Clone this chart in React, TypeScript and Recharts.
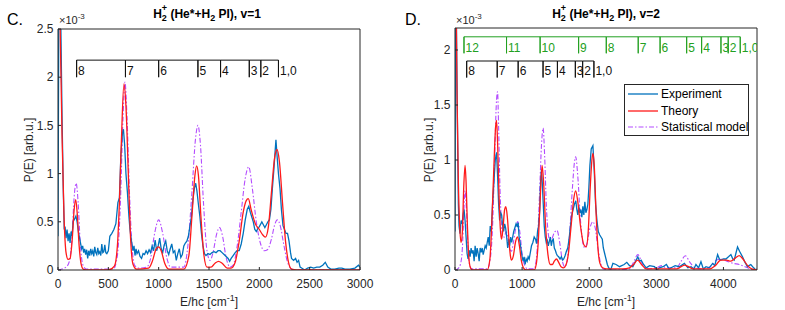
import React from 'react';
import { ComposedChart, Line, XAxis, YAxis, Scatter, Legend } from 'recharts';

const FONT = "'Liberation Sans', Arial, Helvetica, sans-serif";
const AX = '#262626';
const BLUE = '#0072BD';
const RED = '#FF1A1A';
const PURPLE = '#B44CFF';
const GREEN = '#22A022';

// ---------- v=1 (panel C), P in units of 1e-3 ----------
const expV1: [number, number][] = [
  [0, 0.35], [8, 2.7], [28, 2.55], [40, 1.6], [52, 0.85], [62, 0.42], [70, 0.45], [80, 0.33], [90, 0.42], [100, 0.3],
  [110, 0.38], [120, 0.28], [130, 0.4], [140, 0.35], [150, 0.5], [165, 0.53], [178, 0.56], [190, 0.5], [205, 0.38],
  [220, 0.3], [235, 0.22], [245, 0.25], [255, 0.18], [265, 0.22], [275, 0.16], [285, 0.21], [295, 0.12], [305, 0.2],
  [315, 0.15], [325, 0.22], [335, 0.17], [345, 0.2], [355, 0.14], [365, 0.24], [375, 0.18], [385, 0.16], [395, 0.23],
  [405, 0.17], [415, 0.19], [425, 0.15], [435, 0.27], [445, 0.18], [455, 0.19], [465, 0.26], [475, 0.18], [485, 0.17],
  [500, 0.2], [515, 0.35], [535, 0.38], [555, 0.42], [575, 0.48], [595, 0.7], [610, 0.75], [625, 1.2], [640, 1.42],
  [650, 1.46], [662, 1.3], [675, 1.0], [690, 0.8], [705, 0.55], [715, 0.42], [730, 0.3], [745, 0.2], [755, 0.25],
  [765, 0.15], [775, 0.22], [785, 0.17], [800, 0.2], [815, 0.14], [830, 0.12], [845, 0.17], [860, 0.16], [875, 0.2],
  [890, 0.17], [905, 0.21], [920, 0.18], [935, 0.25], [950, 0.2], [965, 0.31], [980, 0.2], [995, 0.25], [1010, 0.33],
  [1025, 0.22], [1040, 0.18], [1055, 0.26], [1070, 0.3], [1085, 0.2], [1100, 0.16], [1115, 0.22], [1130, 0.27],
  [1145, 0.18], [1160, 0.2], [1175, 0.1], [1190, 0.17], [1205, 0.22], [1220, 0.13], [1235, 0.16], [1250, 0.25],
  [1265, 0.28], [1280, 0.3], [1295, 0.35], [1310, 0.45], [1325, 0.55], [1340, 0.73], [1355, 0.85], [1368, 0.9],
  [1380, 0.82], [1395, 0.68], [1410, 0.55], [1425, 0.38], [1440, 0.25], [1455, 0.17], [1470, 0.15], [1490, 0.17],
  [1510, 0.16], [1530, 0.18], [1550, 0.19], [1570, 0.18], [1590, 0.2], [1610, 0.2], [1630, 0.18], [1650, 0.16],
  [1670, 0.14], [1690, 0.12], [1705, 0.09], [1720, 0.12], [1740, 0.15], [1760, 0.18], [1780, 0.2], [1800, 0.2],
  [1820, 0.27], [1840, 0.38], [1860, 0.52], [1880, 0.63], [1895, 0.66], [1910, 0.6], [1925, 0.55], [1940, 0.5],
  [1955, 0.42], [1970, 0.4], [1985, 0.43], [2000, 0.45], [2015, 0.48], [2025, 0.5], [2040, 0.47], [2055, 0.44],
  [2070, 0.47], [2085, 0.5], [2100, 0.52], [2115, 0.63], [2130, 0.85], [2145, 1.05], [2158, 1.25], [2165, 1.35],
  [2175, 1.2], [2190, 1.0], [2205, 0.85], [2220, 0.62], [2235, 0.46], [2250, 0.42], [2265, 0.38], [2280, 0.38],
  [2295, 0.3], [2310, 0.18], [2320, 0.12], [2340, 0.1], [2360, 0.12], [2375, 0.08], [2390, 0.1], [2405, 0.03],
  [2420, 0.02], [2450, 0.0], [2480, 0.02], [2510, 0.03], [2540, 0.02], [2570, 0.03], [2600, 0.03], [2630, 0.05],
  [2655, 0.08], [2680, 0.03], [2710, 0.01], [2750, 0.01], [2790, 0.02], [2820, 0.02], [2850, 0.01], [2900, 0.01],
  [2950, 0.02], [2985, 0.05], [3000, 0.03],
];

const theoryV1: [number, number][] = [
  [0, 3.5], [20, 2.6], [40, 1.4], [60, 0.55], [80, 0.18], [100, 0.11], [120, 0.12], [140, 0.3], [160, 0.62],
  [176, 0.73], [190, 0.6], [210, 0.25], [230, 0.06], [250, 0.01], [300, 0.0], [500, 0.0], [560, 0.04], [590, 0.25],
  [610, 0.7], [630, 1.35], [655, 1.93], [675, 1.7], [700, 0.95], [720, 0.35], [745, 0.06], [780, 0.01], [900, 0.02],
  [940, 0.1], [975, 0.22], [1000, 0.24], [1025, 0.2], [1060, 0.07], [1100, 0.01], [1250, 0.01], [1300, 0.15],
  [1330, 0.55], [1360, 0.98], [1377, 1.08], [1395, 0.98], [1420, 0.55], [1450, 0.15], [1480, 0.03], [1520, 0.03],
  [1560, 0.07], [1595, 0.09], [1630, 0.07], [1680, 0.02], [1720, 0.02], [1760, 0.08], [1800, 0.3], [1840, 0.6],
  [1870, 0.72], [1890, 0.74], [1920, 0.62], [1960, 0.48], [2000, 0.42], [2030, 0.37], [2060, 0.34], [2090, 0.45],
  [2120, 0.8], [2150, 1.15], [2175, 1.25], [2200, 1.12], [2230, 0.7], [2260, 0.3], [2290, 0.08], [2320, 0.01],
  [2400, 0.0], [3000, 0.0],
];

const statV1: [number, number][] = [
  [0, 0.0], [40, 0.01], [80, 0.03], [110, 0.08], [140, 0.35], [160, 0.75], [180, 0.9], [200, 0.7], [220, 0.3],
  [245, 0.06], [280, 0.01], [550, 0.01], [590, 0.15], [620, 0.7], [645, 1.55], [665, 1.95], [685, 1.6], [710, 0.8],
  [735, 0.25], [760, 0.05], [800, 0.02], [880, 0.03], [920, 0.12], [960, 0.38], [1000, 0.52], [1040, 0.38],
  [1080, 0.13], [1120, 0.03], [1250, 0.03], [1290, 0.25], [1330, 0.8], [1365, 1.35], [1390, 1.5], [1415, 1.3],
  [1445, 0.7], [1480, 0.2], [1510, 0.1], [1540, 0.18], [1575, 0.37], [1605, 0.44], [1635, 0.35], [1670, 0.13],
  [1710, 0.03], [1740, 0.05], [1780, 0.25], [1820, 0.6], [1860, 0.95], [1895, 1.07], [1930, 0.85], [1970, 0.5],
  [2010, 0.28], [2050, 0.2], [2080, 0.21], [2120, 0.32], [2150, 0.46], [2178, 0.52], [2210, 0.45], [2240, 0.28],
  [2275, 0.1], [2310, 0.02], [2350, 0.0], [3000, 0.0],
];

// ---------- v=2 (panel D) ----------
const expV2: [number, number][] = [
  [0, 0.35], [8, 2.4], [20, 2.3], [35, 1.4], [50, 0.6], [60, 0.4], [75, 0.33], [90, 0.45], [105, 0.42], [120, 0.5],
  [135, 0.55], [150, 0.45], [165, 0.3], [180, 0.15], [195, 0.1], [210, 0.18], [225, 0.12], [240, 0.2], [255, 0.15],
  [270, 0.18], [285, 0.08], [300, 0.22], [315, 0.12], [330, 0.2], [345, 0.15], [360, 0.08], [375, 0.2], [390, 0.16],
  [405, 0.2], [420, 0.14], [435, 0.18], [450, 0.22], [465, 0.2], [480, 0.25], [495, 0.3], [510, 0.22], [525, 0.4],
  [540, 0.35], [560, 0.6], [580, 0.8], [600, 1.0], [619, 1.07], [635, 0.85], [650, 0.6], [665, 0.45], [680, 0.52],
  [695, 0.5], [710, 0.4], [725, 0.35], [740, 0.42], [755, 0.38], [770, 0.3], [785, 0.2], [800, 0.28], [815, 0.22],
  [830, 0.3], [845, 0.25], [860, 0.3], [875, 0.35], [890, 0.38], [910, 0.42], [925, 0.4], [941, 0.43], [955, 0.3],
  [970, 0.25], [985, 0.18], [1000, 0.12], [1015, 0.08], [1030, 0.12], [1045, 0.05], [1060, 0.1], [1075, 0.08],
  [1090, 0.12], [1105, 0.1], [1120, 0.15], [1140, 0.22], [1160, 0.25], [1180, 0.3], [1200, 0.28], [1215, 0.24],
  [1230, 0.35], [1245, 0.4], [1263, 0.55], [1275, 0.8], [1288, 0.91], [1300, 0.8], [1315, 0.6], [1330, 0.4],
  [1345, 0.3], [1360, 0.25], [1375, 0.27], [1390, 0.22], [1405, 0.26], [1420, 0.3], [1435, 0.22], [1450, 0.27],
  [1465, 0.28], [1480, 0.2], [1495, 0.18], [1510, 0.15], [1525, 0.13], [1545, 0.12], [1565, 0.1], [1585, 0.12],
  [1605, 0.09], [1620, 0.1], [1640, 0.13], [1660, 0.17], [1680, 0.2], [1700, 0.28], [1720, 0.4], [1740, 0.5],
  [1760, 0.55], [1780, 0.6], [1800, 0.63], [1815, 0.55], [1830, 0.5], [1845, 0.58], [1860, 0.52], [1875, 0.55],
  [1890, 0.48], [1905, 0.58], [1920, 0.5], [1935, 0.62], [1950, 0.52], [1965, 0.55], [1980, 0.6], [1995, 0.75],
  [2010, 0.95], [2030, 1.1], [2055, 1.13], [2075, 0.9], [2095, 0.6], [2115, 0.45], [2135, 0.35], [2155, 0.32],
  [2175, 0.3], [2195, 0.28], [2210, 0.2], [2230, 0.15], [2250, 0.1], [2270, 0.05], [2290, 0.02], [2320, 0.0],
  [2353, 0.06], [2400, 0.05], [2452, 0.03], [2520, 0.05], [2560, 0.07], [2600, 0.04], [2650, 0.03], [2690, 0.08],
  [2724, 0.12], [2750, 0.08], [2774, 0.09], [2810, 0.05], [2848, 0.02], [2900, 0.04], [2972, 0.03], [3010, 0.0],
  [3046, 0.02], [3100, 0.03], [3150, 0.05], [3190, 0.01], [3220, 0.02], [3280, 0.04], [3343, 0.03], [3418, 0.06],
  [3470, 0.02], [3517, 0.03], [3560, 0.01], [3590, 0.05], [3630, 0.02], [3665, 0.075], [3700, 0.01], [3740, 0.03],
  [3790, 0.02], [3839, 0.06], [3870, 0.04], [3913, 0.14], [3940, 0.1], [3962, 0.09], [4000, 0.1], [4037, 0.1],
  [4075, 0.12], [4111, 0.14], [4140, 0.1], [4160, 0.09], [4185, 0.15], [4210, 0.21], [4240, 0.17], [4284, 0.12],
  [4320, 0.07], [4358, 0.03], [4380, 0.04], [4408, 0.05], [4450, 0.02], [4482, 0.0], [4500, 0.01],
];

const theoryV2: [number, number][] = [
  [0, 3.5], [15, 2.6], [30, 1.6], [50, 0.8], [70, 0.4], [90, 0.25], [110, 0.35], [130, 0.75], [150, 0.95],
  [165, 0.8], [185, 0.4], [205, 0.12], [230, 0.02], [260, 0.0], [480, 0.0], [520, 0.1], [550, 0.45], [580, 0.95],
  [605, 1.3], [619, 1.36], [635, 1.15], [655, 0.7], [675, 0.38], [693, 0.28], [715, 0.38], [740, 0.55],
  [758, 0.575], [780, 0.48], [805, 0.27], [825, 0.13], [842, 0.09], [870, 0.13], [900, 0.25], [931, 0.3],
  [960, 0.22], [990, 0.08], [1020, 0.02], [1060, 0.0], [1180, 0.0], [1210, 0.05], [1240, 0.25], [1270, 0.65],
  [1298, 0.95], [1320, 0.8], [1350, 0.4], [1385, 0.14], [1420, 0.05], [1450, 0.05], [1480, 0.08], [1511, 0.1],
  [1545, 0.07], [1580, 0.03], [1620, 0.02], [1650, 0.04], [1690, 0.15], [1730, 0.4], [1770, 0.65], [1798, 0.72],
  [1830, 0.62], [1870, 0.4], [1920, 0.23], [1955, 0.21], [1985, 0.35], [2015, 0.75], [2040, 1.0], [2055, 1.06],
  [2075, 0.95], [2100, 0.55], [2130, 0.2], [2160, 0.06], [2200, 0.02], [2260, 0.01], [2500, 0.01], [2600, 0.02],
  [2660, 0.05], [2720, 0.09], [2780, 0.05], [2850, 0.01], [3300, 0.01], [3370, 0.03], [3420, 0.045], [3480, 0.03],
  [3550, 0.01], [3800, 0.01], [3880, 0.04], [3960, 0.09], [4040, 0.09], [4110, 0.08], [4180, 0.11], [4235, 0.13],
  [4290, 0.1], [4360, 0.04], [4420, 0.01], [4500, 0.0],
];

const statV2: [number, number][] = [
  [0, 0.0], [40, 0.01], [80, 0.05], [110, 0.2], [130, 0.5], [150, 0.72], [170, 0.55], [195, 0.2], [220, 0.04],
  [250, 0.01], [480, 0.01], [520, 0.08], [560, 0.4], [590, 1.0], [615, 1.5], [634, 1.62], [650, 1.3], [670, 0.75],
  [690, 0.45], [710, 0.3], [735, 0.3], [760, 0.35], [785, 0.3], [810, 0.2], [840, 0.17], [870, 0.25], [905, 0.38],
  [935, 0.44], [965, 0.35], [1000, 0.15], [1040, 0.04], [1080, 0.01], [1180, 0.01], [1220, 0.15], [1260, 0.7],
  [1290, 1.15], [1313, 1.29], [1335, 1.05], [1360, 0.6], [1390, 0.33], [1412, 0.27], [1440, 0.28], [1480, 0.34],
  [1521, 0.36], [1560, 0.25], [1600, 0.08], [1634, 0.03], [1670, 0.08], [1710, 0.35], [1750, 0.75], [1780, 0.98],
  [1798, 1.03], [1830, 0.85], [1870, 0.45], [1910, 0.23], [1935, 0.2], [1970, 0.25], [2010, 0.38], [2055, 0.44],
  [2090, 0.38], [2130, 0.2], [2170, 0.06], [2210, 0.01], [2300, 0.0], [2600, 0.01], [2660, 0.07], [2724, 0.14],
  [2790, 0.06], [2850, 0.01], [3000, 0.02], [3080, 0.04], [3150, 0.02], [3300, 0.02], [3370, 0.08], [3432, 0.13],
  [3500, 0.07], [3580, 0.02], [3700, 0.01], [3800, 0.03], [3900, 0.09], [3960, 0.1], [4050, 0.08], [4150, 0.06],
  [4235, 0.05], [4320, 0.03], [4400, 0.01], [4500, 0.0],
];

// vibrational level combs (E positions, cm^-1)
const levelLabelsShort = ['8', '7', '6', '5', '4', '3', '2', '1,0'];
const levelsV1 = [185, 670, 1000, 1390, 1615, 1900, 2015, 2190];
const levelsV2Black = [174, 629, 941, 1312, 1526, 1793, 1902, 2070];
const levelLabelsLong = ['12', '11', '10', '9', '8', '7', '6', '5', '4', '3', '2', '1,0'];
const levelsV2Green = [134, 768, 1268, 1842, 2254, 2730, 3056, 3452, 3675, 3963, 4071, 4250];

const xTicksV1 = [0, 500, 1000, 1500, 2000, 2500, 3000];
const yTicksV1 = [0, 0.5, 1, 1.5, 2, 2.5];
const xTicksV2 = [0, 1000, 2000, 3000, 4000];
const yTicksV2 = [0, 0.5, 1, 1.5, 2];

const toPts = (arr: [number, number][]) => arr.map(([x, y]) => ({ x, y }));

type Comb = { levels: number[]; labels: string[]; top: number; bottom: number; labelY: number; color: string };

const combPath = (c: Comb) => {
  const pts: { x: number; y: number }[] = [];
  c.levels.forEach((e) => {
    pts.push({ x: e, y: c.top });
    pts.push({ x: e, y: c.bottom });
    pts.push({ x: e, y: c.top });
  });
  return pts;
};

const combLabels = (c: Comb) => c.levels.map((e, i) => ({ x: e, y: c.labelY, label: c.labels[i] }));

const makeLabelShape = (color: string) => (props: any) => (
  <text x={props.cx + 1.5} y={props.cy} fill={color} fontSize={12} fontFamily={FONT}>
    {props.payload.label}
  </text>
);

const LegendBox = () => {
  const items = [
    { name: 'Experiment', color: BLUE, dash: undefined as string | undefined, w: 1.3 },
    { name: 'Theory', color: RED, dash: undefined, w: 1.3 },
    { name: 'Statistical model', color: PURPLE, dash: '5 2 1.5 2', w: 1.1 },
  ];
  return (
    <div
      style={{
        border: `1px solid ${AX}`,
        background: '#fff',
        width: 123,
        height: 49,
        boxSizing: 'content-box',
        paddingTop: 1,
        fontFamily: FONT,
        fontSize: 12,
        color: '#000',
      }}
    >
      {items.map((it) => (
        <div key={it.name} style={{ display: 'flex', alignItems: 'center', height: 16.5, whiteSpace: 'nowrap' }}>
          <svg width={36} height={10} style={{ flex: 'none' }}>
            <line x1={3} x2={33} y1={5} y2={5} stroke={it.color} strokeWidth={it.w} strokeDasharray={it.dash} />
          </svg>
          <span style={{ lineHeight: '16px' }}>{it.name}</span>
        </div>
      ))}
    </div>
  );
};

type PanelProps = {
  width: number;
  height: number;
  margin: { top: number; right: number; bottom: number; left: number };
  xMax: number;
  yMax: number;
  xTicks: number[];
  yTicks: number[];
  exp: [number, number][];
  theory: [number, number][];
  stat: [number, number][];
  combs: Comb[];
  legend?: boolean;
};

const Panel = (p: PanelProps) => {
  const tickStyle = { fill: AX, fontSize: 12, fontFamily: FONT };
  return (
    <ComposedChart width={p.width} height={p.height} margin={p.margin}>
      <XAxis
        dataKey="x"
        type="number"
        domain={[0, p.xMax]}
        ticks={p.xTicks}
        interval={0}
        allowDataOverflow
        height={30}
        tickSize={-3}
        tickMargin={12}
        tick={tickStyle}
        axisLine={{ stroke: AX }}
        tickLine={{ stroke: AX }}
      />
      <XAxis
        xAxisId="top"
        orientation="top"
        dataKey="x"
        type="number"
        domain={[0, p.xMax]}
        ticks={p.xTicks}
        interval={0}
        allowDataOverflow
        height={1}
        tickSize={-3}
        tick={false}
        axisLine={{ stroke: AX }}
        tickLine={{ stroke: AX }}
      />
      <YAxis
        type="number"
        domain={[0, p.yMax]}
        ticks={p.yTicks}
        interval={0}
        allowDataOverflow
        width={30}
        tickSize={-3}
        tickMargin={7.5}
        tick={tickStyle}
        axisLine={{ stroke: AX }}
        tickLine={{ stroke: AX }}
      />
      <YAxis
        yAxisId="right"
        orientation="right"
        type="number"
        domain={[0, p.yMax]}
        ticks={p.yTicks}
        interval={0}
        allowDataOverflow
        width={1}
        tickSize={-3}
        tick={false}
        axisLine={{ stroke: AX }}
        tickLine={{ stroke: AX }}
      />
      {p.combs.map((c, i) => (
        <Line
          key={'comb' + i}
          data={combPath(c)}
          dataKey="y"
          type="linear"
          stroke={c.color}
          strokeWidth={1}
          dot={false}
          activeDot={false}
          isAnimationActive={false}
          legendType="none"
        />
      ))}
      {p.combs.map((c, i) => (
        <Scatter
          key={'lab' + i}
          data={combLabels(c)}
          dataKey="y"
          shape={makeLabelShape(c.color)}
          isAnimationActive={false}
          legendType="none"
        />
      ))}
      <Line
        data={toPts(p.stat)}
        dataKey="y"
        name="Statistical model"
        type="monotone"
        stroke={PURPLE}
        strokeWidth={1.1}
        strokeDasharray="5 2 1.5 2"
        dot={false}
        activeDot={false}
        isAnimationActive={false}
      />
      <Line
        data={toPts(p.exp)}
        dataKey="y"
        name="Experiment"
        type="linear"
        stroke={BLUE}
        strokeWidth={1.3}
        dot={false}
        activeDot={false}
        isAnimationActive={false}
      />
      <Line
        data={toPts(p.theory)}
        dataKey="y"
        name="Theory"
        type="monotone"
        stroke={RED}
        strokeWidth={1.3}
        dot={false}
        activeDot={false}
        isAnimationActive={false}
      />
      {p.legend && (
        <Legend
          layout="vertical"
          align="center"
          verticalAlign="middle"
          content={() => <LegendBox />}
          wrapperStyle={{ position: 'absolute', left: 224, top: 84, width: 125, height: 51, right: 'auto', bottom: 'auto' }}
        />
      )}
    </ComposedChart>
  );
};

const Title = ({ x, v }: { x: number; v: string }) => (
  <text x={x} y={17.5} textAnchor="middle" fontWeight="bold" fontSize={12} fontFamily={FONT} fill="#000">
    H<tspan fontSize={9} dy={3.5}>2</tspan>
    <tspan fontSize={9} dx={-5} dy={-10}>+</tspan>
    <tspan dy={6.5}> (He*+H</tspan>
    <tspan fontSize={9} dy={3.5}>2</tspan>
    <tspan dy={-3.5}>{` PI), v=${v}`}</tspan>
  </text>
);

const XLabel = ({ x }: { x: number }) => (
  <text x={x} y={306} textAnchor="middle" fontSize={12} fontFamily={FONT} fill={AX}>
    E/hc [cm<tspan fontSize={9} dy={-5}>-1</tspan>
    <tspan dy={5}>]</tspan>
  </text>
);

const YLabel = ({ x }: { x: number }) => (
  <text transform={`translate(${x},150) rotate(-90)`} textAnchor="middle" fontSize={12} fontFamily={FONT} fill={AX}>
    P(E) [arb.u.]
  </text>
);

const Exponent = ({ x }: { x: number }) => (
  <text x={x} y={24} fontSize={11} fontFamily={FONT} fill={AX}>
    ×10<tspan fontSize={8} dy={-5}>-3</tspan>
  </text>
);

export default function App() {
  const combsV1: Comb[] = [
    { levels: levelsV1, labels: levelLabelsShort, top: 2.177, bottom: 2.0, labelY: 2.02, color: '#111' },
  ];
  const combsV2: Comb[] = [
    { levels: levelsV2Green, labels: levelLabelsLong, top: 2.12, bottom: 1.97, labelY: 1.985, color: GREEN },
    { levels: levelsV2Black, labels: levelLabelsShort, top: 1.9, bottom: 1.75, labelY: 1.77, color: '#111' },
  ];
  return (
    <div style={{ position: 'absolute', left: 0, top: 0, width: 785, height: 310, background: '#fff', fontFamily: FONT }}>
      <div style={{ position: 'absolute', left: 0, top: 0, width: 400, height: 310 }}>
        <Panel
          width={400}
          height={310}
          margin={{ top: 28, right: 39, bottom: 10, left: 28 }}
          xMax={3000}
          yMax={2.5}
          xTicks={xTicksV1}
          yTicks={yTicksV1}
          exp={expV1}
          theory={theoryV1}
          stat={statV1}
          combs={combsV1}
        />
      </div>
      <div style={{ position: 'absolute', left: 400, top: 0, width: 385, height: 310 }}>
        <Panel
          width={385}
          height={310}
          margin={{ top: 27, right: 27, bottom: 10, left: 25 }}
          xMax={4500}
          yMax={2.2}
          xTicks={xTicksV2}
          yTicks={yTicksV2}
          exp={expV2}
          theory={theoryV2}
          stat={statV2}
          combs={combsV2}
          legend
        />
      </div>
      <svg width={785} height={310} style={{ position: 'absolute', left: 0, top: 0, pointerEvents: 'none' }}>
        <text x={7} y={25} fontSize={16} fontFamily={FONT} fill="#000">C.</text>
        <text x={405} y={25} fontSize={16} fontFamily={FONT} fill="#000">D.</text>
        <Title x={207} v="1" />
        <Title x={606} v="2" />
        <Exponent x={59} />
        <Exponent x={456} />
        <YLabel x={32.5} />
        <YLabel x={432.5} />
        <XLabel x={209} />
        <XLabel x={606} />
      </svg>
    </div>
  );
}
